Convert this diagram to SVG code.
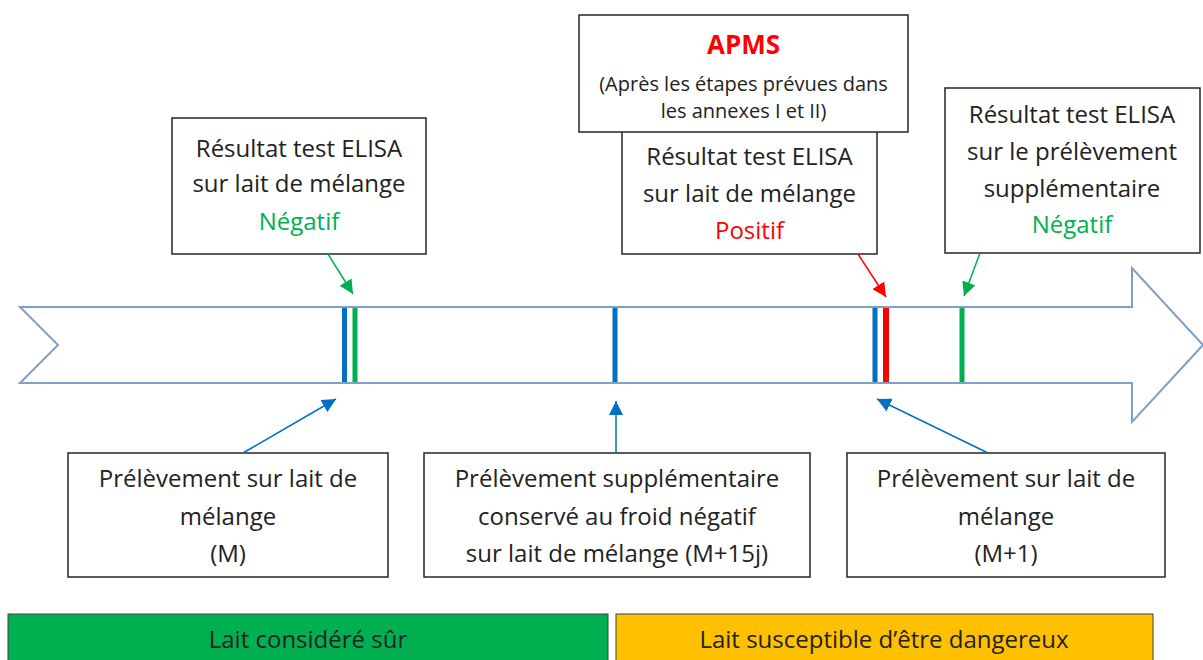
<svg xmlns="http://www.w3.org/2000/svg" width="1203" height="660" viewBox="0 0 1203 660">
<defs>
<style>
.box{fill:#fff;stroke:#262626;stroke-width:1.5}
.t{font-family:"Open Sans","Liberation Sans",sans-serif;font-size:24px;fill:#222;text-anchor:middle}
.s{font-family:"Open Sans","Liberation Sans",sans-serif;font-size:20px;fill:#222;text-anchor:middle}
.g{fill:#00b050}
.r{fill:#ff0000}
.bar{stroke:none}
.cg{stroke:#00b050;stroke-width:1.5;fill:none}
.cr{stroke:#ff0000;stroke-width:1.5;fill:none}
.cb{stroke:#0070c0;stroke-width:1.5;fill:none}
</style>
<marker id="ag" markerUnits="userSpaceOnUse" markerWidth="16" markerHeight="14" refX="14" refY="7" orient="auto"><path d="M0,0 L14,7 L0,14 Z" fill="#00b050"/></marker>
<marker id="ar" markerUnits="userSpaceOnUse" markerWidth="16" markerHeight="14" refX="14" refY="7" orient="auto"><path d="M0,0 L14,7 L0,14 Z" fill="#ff0000"/></marker>
<marker id="ab" markerUnits="userSpaceOnUse" markerWidth="16" markerHeight="14" refX="14" refY="7" orient="auto"><path d="M0,0 L14,7 L0,14 Z" fill="#0070c0"/></marker>
</defs>
<rect width="1203" height="660" fill="#fff"/>
<g id="timeline">
<polygon points="20,307 1132,307 1132,268 1203,345 1132,422 1132,383 20,383 58,345" fill="#fff" stroke="#7f9fc6" stroke-width="2"/>
<rect class="bar" x="342" y="308" width="5" height="74" fill="#0070c0"/>
<rect class="bar" x="352.5" y="308" width="5" height="74" fill="#00b050"/>
<rect class="bar" x="612.5" y="308" width="5" height="74" fill="#0070c0"/>
<rect class="bar" x="872.5" y="308" width="5" height="74" fill="#0070c0"/>
<rect class="bar" x="883" y="308" width="6" height="74" fill="#ff0000"/>
<rect class="bar" x="959.5" y="308" width="5" height="74" fill="#00b050"/>
</g>
<g id="elisa1">
<rect class="box" x="172" y="118" width="254" height="136"/>
<text class="t" x="299" y="157">Résultat test ELISA</text>
<text class="t" x="299" y="192">sur lait de mélange</text>
<text class="t g" x="299" y="230">Négatif</text>
</g>
<g id="elisa2">
<rect class="box" x="622" y="118" width="255" height="136"/>
<text class="t" x="749.5" y="165">Résultat test ELISA</text>
<text class="t" x="749.5" y="202">sur lait de mélange</text>
<text class="t r" x="749.5" y="239">Positif</text>
</g>
<g id="apms">
<rect class="box" x="579" y="15" width="329" height="117"/>
<text x="743.5" y="54" text-anchor="middle" font-family="Open Sans, Liberation Sans, sans-serif" font-size="26" font-weight="bold" fill="#ff0000">APMS</text>
<text class="s" x="743.5" y="91">(Après les étapes prévues dans</text>
<text class="s" x="743.5" y="118">les annexes I et II)</text>
</g>
<g id="elisa3">
<rect class="box" x="945" y="88" width="255" height="165"/>
<text class="t" x="1072" y="123">Résultat test ELISA</text>
<text class="t" x="1072" y="160">sur le prélèvement</text>
<text class="t" x="1072" y="197">supplémentaire</text>
<text class="t g" x="1072" y="233">Négatif</text>
</g>
<g id="prelM">
<rect class="box" x="68" y="453" width="320" height="124"/>
<text class="t" x="228" y="487">Prélèvement sur lait de</text>
<text class="t" x="228" y="525">mélange</text>
<text class="t" x="228" y="562">(M)</text>
</g>
<g id="prelM15">
<rect class="box" x="424" y="453" width="386" height="124"/>
<text class="t" x="617" y="487">Prélèvement supplémentaire</text>
<text class="t" x="617" y="525">conservé au froid négatif</text>
<text class="t" x="617" y="562">sur lait de mélange (M+15j)</text>
</g>
<g id="prelM1">
<rect class="box" x="847" y="453" width="318" height="124"/>
<text class="t" x="1006" y="487">Prélèvement sur lait de</text>
<text class="t" x="1006" y="525">mélange</text>
<text class="t" x="1006" y="562">(M+1)</text>
</g>
<g id="connectors">
<line class="cg" x1="328" y1="254" x2="353" y2="294" marker-end="url(#ag)"/>
<line class="cr" x1="858" y1="254" x2="886" y2="297" marker-end="url(#ar)"/>
<line class="cg" x1="980" y1="253" x2="964" y2="296" marker-end="url(#ag)"/>
<line class="cb" x1="243" y1="453" x2="336" y2="399" marker-end="url(#ab)"/>
<line class="cb" x1="616" y1="453" x2="616" y2="401" marker-end="url(#ab)"/>
<line class="cb" x1="988" y1="453" x2="877" y2="399" marker-end="url(#ab)"/>
</g>
<g id="safe">
<rect x="8" y="614" width="600" height="50" fill="#00b050" stroke="#404040" stroke-width="1"/>
<text class="t" x="308" y="648" font-size="22">Lait considéré sûr</text>
</g>
<g id="danger">
<rect x="616" y="614" width="537" height="50" fill="#ffc000" stroke="#404040" stroke-width="1"/>
<text class="t" x="884" y="648" font-size="22">Lait susceptible d’être dangereux</text>
</g>
</svg>
